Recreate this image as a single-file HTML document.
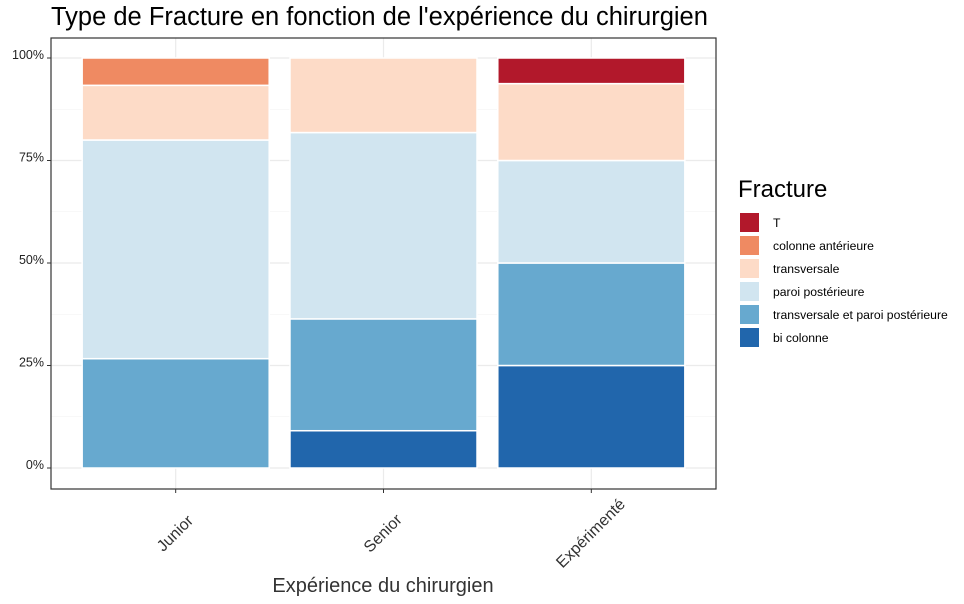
<!DOCTYPE html>
<html><head><meta charset="utf-8"><style>
body{margin:0;background:#fff;font-family:"Liberation Sans",sans-serif;}
</style></head><body>
<svg id="chart" width="964" height="599" xmlns="http://www.w3.org/2000/svg" font-family="Liberation Sans, sans-serif"></svg>
<script>
const categories = ["Junior","Senior","Expérimenté"];
const seriesNames = ["bi colonne","transversale et paroi postérieure","paroi postérieure","transversale","colonne antérieure","T"];
const seriesColors = ["#2166AC","#67A9CF","#D1E5F0","#FDDBC7","#EF8A62","#B2182B"];
const biColonne = [0,1,4];
const transvParoi = [4,3,4];
const paroiPost = [8,5,4];
const transversale = [2,2,3];
const colonneAnt = [1,0,0];
const tFracture = [0,0,1];
const yTicks = [0,0.25,0.5,0.75,1];
const yTickLabels = ["0%","25%","50%","75%","100%"];
const seriesValues = [biColonne,transvParoi,paroiPost,transversale,colonneAnt,tFracture];

const svg = document.getElementById('chart');
const NS = "http://www.w3.org/2000/svg";
function mk(tag, attrs, parent){const e=document.createElementNS(NS,tag);for(const k in attrs)e.setAttribute(k,attrs[k]);(parent||svg).appendChild(e);return e;}
const pL=51,pR=716,pT=38,pB=489;
const y0=468,y1=58;
const yScale=v=>y0-(y0-y1)*v;
const band=(pR-pL)/(categories.length-1+1.2);
const xCenter=i=>pL+band*(0.6+i);
const barW=band*0.9;

for(let i=0;i<yTicks.length-1;i++){const m=(yTicks[i]+yTicks[i+1])/2;
 const g=mk('line',{x1:pL,x2:pR,y1:yScale(m),y2:yScale(m),stroke:'#f0f0f0','stroke-width':0.6});
 
 }
yTicks.forEach(t=>{const g=mk('line',{x1:pL,x2:pR,y1:yScale(t),y2:yScale(t),stroke:'#ebebeb','stroke-width':1.2});
 
 });
categories.forEach((c,i)=>{const g=mk('line',{x1:xCenter(i),x2:xCenter(i),y1:pT,y2:pB,stroke:'#ebebeb','stroke-width':1.2});
 
 });

categories.forEach((c,i)=>{
 const total=seriesValues.reduce((s,a)=>s+a[i],0);
 let cum=0;
 seriesValues.forEach((arr,s)=>{const v=arr[i]/total;if(v<=0)return;
  const r=mk('rect',{x:xCenter(i)-barW/2,y:yScale(cum+v),width:barW,height:yScale(cum)-yScale(cum+v),fill:seriesColors[s],stroke:'#fff','stroke-width':1.5});
  
  
  cum+=v;});
});

const b=mk('rect',{x:pL,y:pT,width:pR-pL,height:pB-pT,fill:'none',stroke:'#333','stroke-width':1.2});



yTicks.forEach((t,i)=>{
 const l=mk('line',{x1:pL-4,x2:pL,y1:yScale(t),y2:yScale(t),stroke:'#333','stroke-width':1});
 
 
 const tx=mk('text',{x:pL-7,y:yScale(t)+1,'text-anchor':'end','font-size':12.5,fill:'#222'});
 tx.textContent=yTickLabels[i];
 
 });
categories.forEach((c,i)=>{
 const l=mk('line',{x1:xCenter(i),x2:xCenter(i),y1:pB,y2:pB+4,stroke:'#333','stroke-width':1});
 
 
 const ax=xCenter(i)+3, ay=pB+48;
 const tx=mk('text',{x:ax,y:ay,'text-anchor':'middle','font-size':16,fill:'#333',transform:`rotate(-45 ${ax} ${ay})`});
 tx.textContent=c;
 
 });
</script>
<svg style="position:absolute;left:0;top:0" width="964" height="599" xmlns="http://www.w3.org/2000/svg" font-family="Liberation Sans, sans-serif">
<text x="51" y="25" font-size="25.5" fill="#000">Type de Fracture en fonction de l'expérience du chirurgien</text>
<text x="383" y="592" font-size="20" fill="#333" text-anchor="middle">Expérience du chirurgien</text>
<g font-size="12.2" fill="#000">
<text x="738" y="197" font-size="24">Fracture</text>
<g><rect x="740" y="213" width="19" height="19" fill="#B2182B"/><text x="773" y="227">T</text></g>
<g><rect x="740" y="236" width="19" height="19" fill="#EF8A62"/><text x="773" y="250">colonne antérieure</text></g>
<g><rect x="740" y="259" width="19" height="19" fill="#FDDBC7"/><text x="773" y="273">transversale</text></g>
<g><rect x="740" y="282" width="19" height="19" fill="#D1E5F0"/><text x="773" y="296">paroi postérieure</text></g>
<g><rect x="740" y="305" width="19" height="19" fill="#67A9CF"/><text x="773" y="319">transversale et paroi postérieure</text></g>
<g><rect x="740" y="328" width="19" height="19" fill="#2166AC"/><text x="773" y="342">bi colonne</text></g>
</g>
</svg>
</body></html>
